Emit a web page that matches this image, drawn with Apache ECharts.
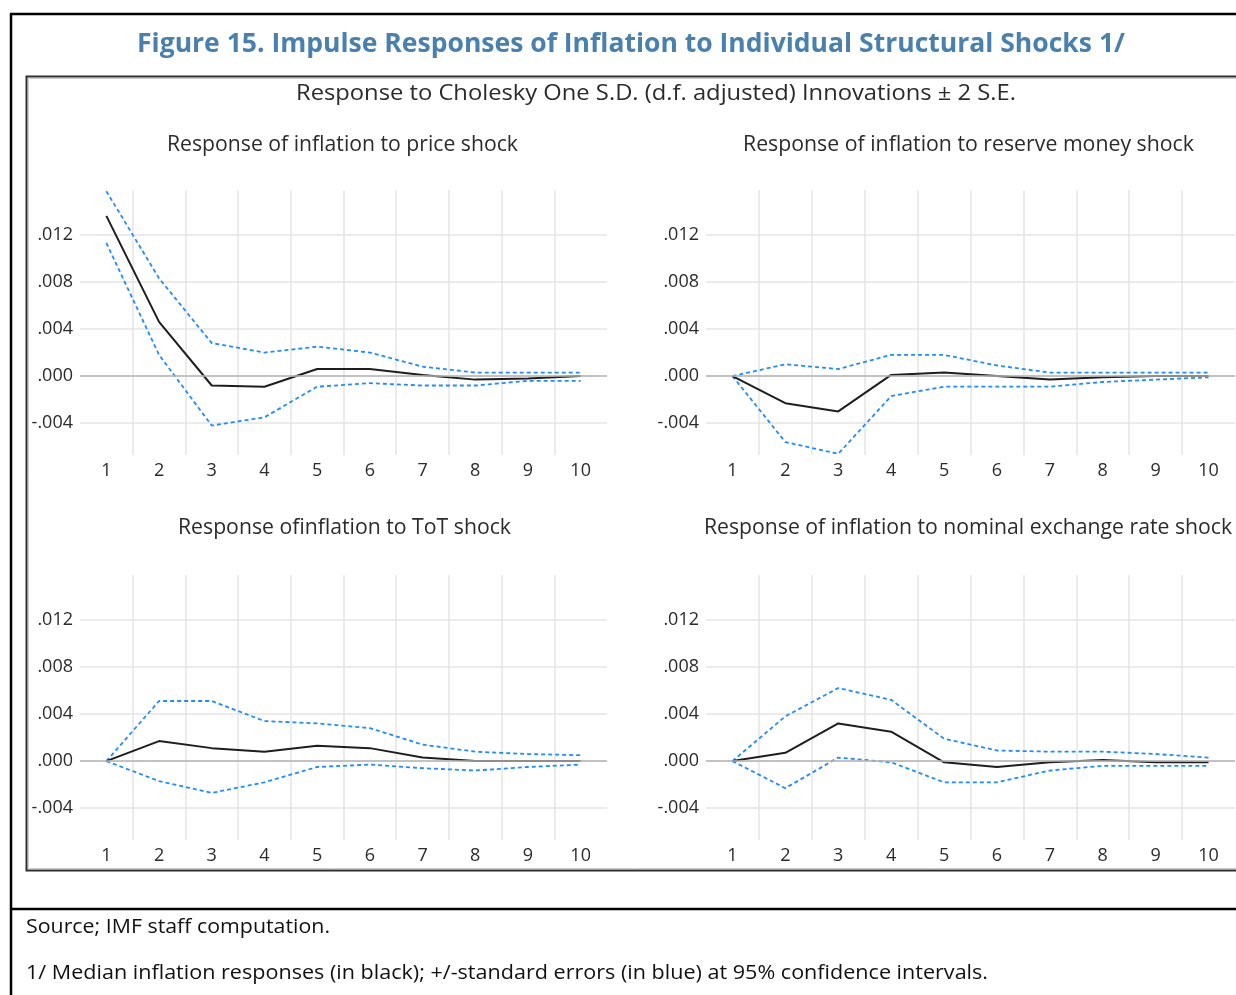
<!DOCTYPE html>
<html>
<head>
<meta charset="utf-8">
<title>Impulse Responses of Inflation</title>
<script src="https://cdn.jsdelivr.net/npm/echarts@6/dist/echarts.min.js"></script>
<style>
  html, body { margin: 0; padding: 0; background: #ffffff; }
  #chart { width: 1236px; height: 995px; }
</style>
</head>
<body>
<div id="chart"></div>
<script>
// Horizon (periods after the shock)
const periods = ['1', '2', '3', '4', '5', '6', '7', '8', '9', '10'];
// Value-axis tick positions
const yTicks = [-0.004, 0, 0.004, 0.008, 0.012];

// Response of inflation to price shock
const priceMedian = [0.0136, 0.0046, -0.0008, -0.0009, 0.0006, 0.0006, 0.0001, -0.0003, -0.0002, 0.0];
const priceUpper  = [0.0157, 0.0083, 0.0028, 0.0020, 0.0025, 0.0020, 0.0008, 0.0003, 0.0003, 0.0003];
const priceLower  = [0.0113, 0.0018, -0.0042, -0.0035, -0.0009, -0.0006, -0.0008, -0.0008, -0.0004, -0.0004];

// Response of inflation to reserve money shock
const moneyMedian = [0.0, -0.0023, -0.0030, 0.0001, 0.0003, 0.0, -0.0003, -0.0001, 0.0, 0.0];
const moneyUpper  = [0.0, 0.0010, 0.0006, 0.0018, 0.0018, 0.0009, 0.0003, 0.0003, 0.0003, 0.0003];
const moneyLower  = [0.0, -0.0056, -0.0066, -0.0017, -0.0009, -0.0009, -0.0009, -0.0005, -0.0003, -0.0001];

// Response of inflation to terms-of-trade shock
const totMedian = [0.0, 0.0017, 0.0011, 0.0008, 0.0013, 0.0011, 0.0003, 0.0, 0.0, 0.0];
const totUpper  = [0.0, 0.0051, 0.0051, 0.0034, 0.0032, 0.0028, 0.0014, 0.0008, 0.0006, 0.0005];
const totLower  = [0.0, -0.0017, -0.0027, -0.0018, -0.0005, -0.0003, -0.0006, -0.0008, -0.0005, -0.0003];

// Response of inflation to nominal exchange rate shock
const fxMedian = [0.0, 0.0007, 0.0032, 0.0025, -0.0001, -0.0005, -0.0001, 0.0001, -0.0001, -0.0001];
const fxUpper  = [0.0, 0.0038, 0.0062, 0.0052, 0.0019, 0.0009, 0.0008, 0.0008, 0.0006, 0.0003];
const fxLower  = [0.0, -0.0023, 0.0003, -0.0001, -0.0018, -0.0018, -0.0008, -0.0004, -0.0004, -0.0004];

const panelTitles = [
  'Response of inflation to price shock',
  'Response of inflation to reserve money shock',
  'Response ofinflation to ToT shock',
  'Response of inflation to nominal exchange rate shock'
];
const figureTitle = 'Figure 15. Impulse Responses of Inflation to Individual Structural Shocks 1/';
const figureSubtitle = 'Response to Cholesky One S.D. (d.f. adjusted) Innovations \u00b1 2 S.E.';
const sourceNote = 'Source; IMF staff computation.';
const footNote = '1/ Median inflation responses (in black); +/-standard errors (in blue) at 95% confidence intervals.';

const panels = [
  { median: priceMedian, upper: priceUpper, lower: priceLower },
  { median: moneyMedian, upper: moneyUpper, lower: moneyLower },
  { median: totMedian, upper: totUpper, lower: totLower },
  { median: fxMedian, upper: fxUpper, lower: fxLower }
];

const FONT = '"Open Sans", "Noto Sans", "DejaVu Sans", sans-serif';
const TEXT = '#2b2b2b';
const BLUE = '#1e8cff';
const GRIDLINE = '#e4e4e4';

// Horizontal squeeze so a text run spans the given width
const measureCtx = document.createElement('canvas').getContext('2d');
function squeeze(str, size, weight, width) {
  measureCtx.font = weight + ' ' + size + 'px ' + FONT;
  return width / measureCtx.measureText(str).width;
}
function textEl(str, x, y, size, weight, color, width, align) {
  return {
    type: 'text', x: x, y: y, silent: true,
    scaleX: squeeze(str, size, weight, width), scaleY: 1,
    style: {
      text: str, fill: color, align: align || 'center', verticalAlign: 'middle',
      font: weight + ' ' + size + 'px ' + FONT
    }
  };
}

const gridBoxes = [
  { left: 80, top: 190, width: 527, height: 265 },
  { left: 706, top: 190, width: 529, height: 265 },
  { left: 80, top: 575, width: 527, height: 265 },
  { left: 706, top: 575, width: 529, height: 265 }
];

const fmtTick = v => (v < 0 ? '-' : '') + Math.abs(v).toFixed(3).replace(/^0/, '');

const option = {
  backgroundColor: '#ffffff',
  animation: false,
  grid: gridBoxes.map(g => Object.assign({ containLabel: false }, g)),
  xAxis: gridBoxes.map((g, i) => ({
    type: 'category', gridIndex: i, data: periods, boundaryGap: true,
    axisLine: { show: false }, axisTick: { show: false },
    axisLabel: { color: TEXT, fontFamily: FONT, fontSize: 18, margin: 7 },
    splitLine: { show: true, showMinLine: false, showMaxLine: false,
      lineStyle: { color: GRIDLINE, width: 1.5 } }
  })),
  yAxis: gridBoxes.map((g, i) => ({
    type: 'value', gridIndex: i, min: -0.0067, max: 0.0158,
    axisLine: { show: false },
    axisTick: { show: false, customValues: yTicks },
    axisLabel: { customValues: yTicks, color: TEXT, fontFamily: FONT, fontSize: 18,
      margin: 7, formatter: fmtTick },
    splitLine: { show: true, lineStyle: { color: GRIDLINE, width: 1.5 } }
  })),
  series: [],
  graphic: []
};

panels.forEach((p, i) => {
  const dashed = (name, data) => ({
    name: name, type: 'line', xAxisIndex: i, yAxisIndex: i, data: data,
    symbol: 'none', silent: true, z: 2,
    lineStyle: { color: BLUE, width: 1.8, type: [4, 3] }
  });
  const upper = dashed('upper', p.upper);
  upper.markLine = {
    silent: true, symbol: 'none', label: { show: false },
    lineStyle: { color: '#b5b5b5', width: 1.5, type: 'solid' },
    data: [{ yAxis: 0 }]
  };
  option.series.push(upper, dashed('lower', p.lower), {
    name: 'median', type: 'line', xAxisIndex: i, yAxisIndex: i, data: p.median,
    symbol: 'none', silent: true, z: 4,
    lineStyle: { color: '#1e1e1e', width: 2 }
  });
});

option.graphic = [
  // page frame
  { type: 'line', silent: true, shape: { x1: 10, y1: 14, x2: 1240, y2: 14 }, style: { stroke: '#000', lineWidth: 2.5 } },
  { type: 'line', silent: true, shape: { x1: 11, y1: 13, x2: 11, y2: 1000 }, style: { stroke: '#000', lineWidth: 2.5 } },
  { type: 'line', silent: true, shape: { x1: 10, y1: 909, x2: 1240, y2: 909 }, style: { stroke: '#000', lineWidth: 2.5 } },
  // chart box
  { type: 'rect', silent: true, shape: { x: 26.5, y: 76.5, width: 1230, height: 794 },
    style: { fill: null, stroke: '#2e2e2e', lineWidth: 2 } },
  { type: 'rect', silent: true, shape: { x: 28.5, y: 78.5, width: 1230, height: 790 },
    style: { fill: null, stroke: '#cfcfcf', lineWidth: 1 } },
  textEl(figureTitle, 631, 44, 27, 'bold', '#4a80ae', 988),
  textEl(figureSubtitle, 656, 94, 21, 'normal', TEXT, 720),
  textEl(panelTitles[0], 342.5, 145, 21, 'normal', TEXT, 351),
  textEl(panelTitles[1], 968.5, 145, 21, 'normal', TEXT, 451),
  textEl(panelTitles[2], 344.5, 528, 21, 'normal', TEXT, 333),
  Object.assign(textEl(panelTitles[3], 704, 528, 21, 'normal', TEXT, 351, 'left'),
    { scaleX: squeeze(panelTitles[0], 21, 'normal', 351) }),
  textEl(sourceNote, 26, 927, 20, 'normal', '#111', 304, 'left'),
  textEl(footNote, 26, 973, 20, 'normal', '#111', 962, 'left')
];

const chart = echarts.init(document.getElementById('chart'), null, { renderer: 'canvas' });
chart.setOption(option);
</script>
</body>
</html>
